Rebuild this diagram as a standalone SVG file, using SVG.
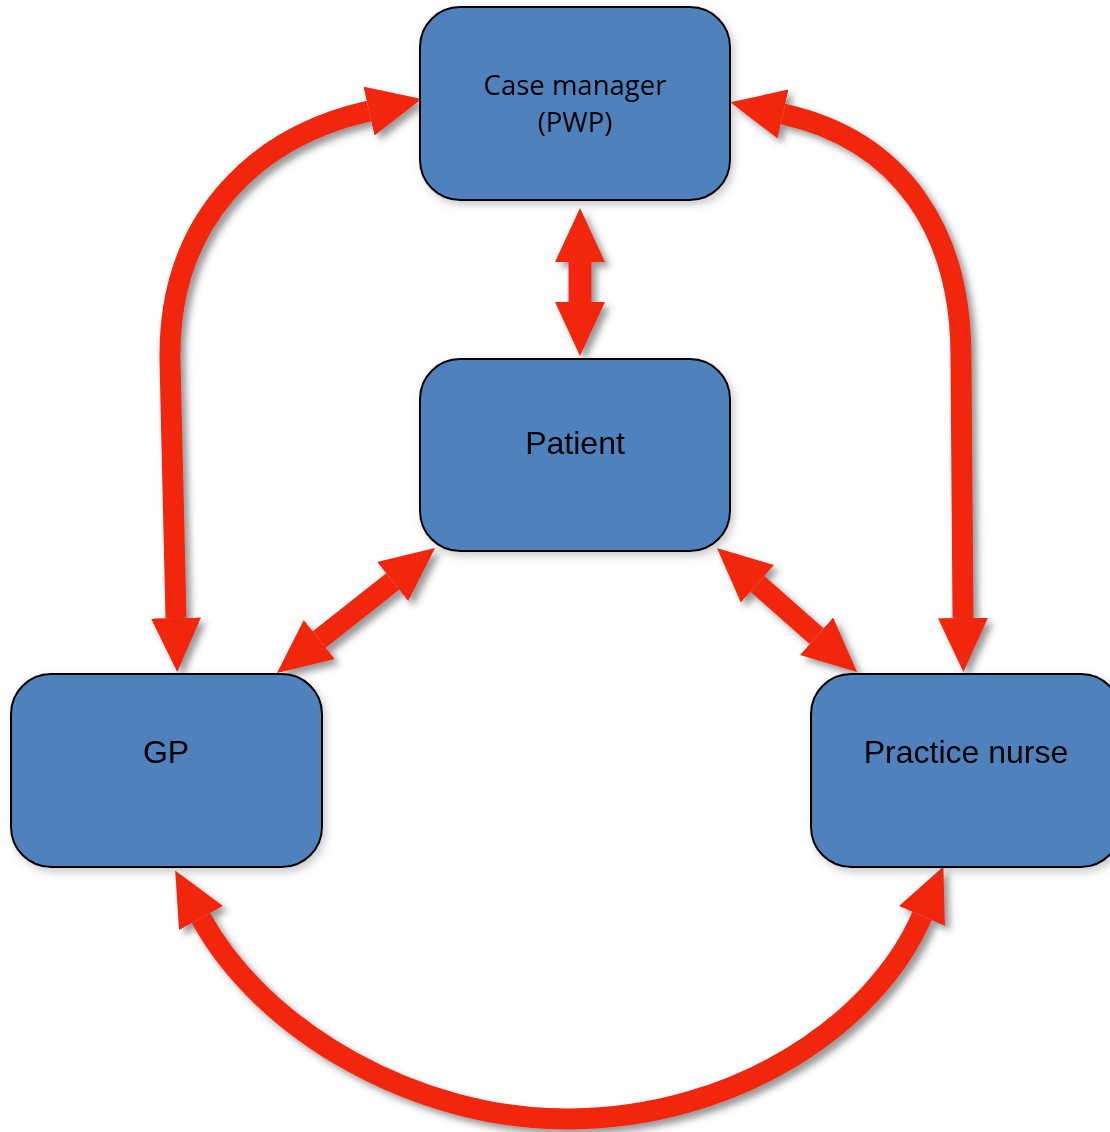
<svg xmlns="http://www.w3.org/2000/svg" width="1110" height="1132" viewBox="0 0 1110 1132">
  <style>
    .box { fill: #4F81BD; stroke: #000; stroke-width: 2; }
    .shaft { fill: none; stroke: #F2270F; stroke-width: 21; marker-start: url(#ah); marker-end: url(#ah); }
    .lbl { font-family: "Liberation Sans", Arial, sans-serif; font-size: 32px; fill: #000; text-anchor: middle; }
    .lbl2 { font-family: "Open Sans", "Liberation Sans", sans-serif; font-size: 27.5px; fill: #000; text-anchor: middle; }
  </style>
  <defs>
    <marker id="ah" markerUnits="userSpaceOnUse" markerWidth="60" markerHeight="52" refX="0" refY="25" orient="auto-start-reverse" viewBox="0 0 60 52">
      <path d="M0,0 L54,25 L0,50 z" fill="#F2270F"/>
    </marker>
    <filter id="sh" x="-20%" y="-20%" width="140%" height="140%">
      <feDropShadow dx="5" dy="5" stdDeviation="3.5" flood-color="#444" flood-opacity="0.55"/>
    </filter>
    <filter id="bsh" x="-10%" y="-10%" width="120%" height="125%">
      <feDropShadow dx="3" dy="4" stdDeviation="4" flood-color="#666" flood-opacity="0.35"/>
    </filter>
  </defs>
  <rect width="1110" height="1132" fill="#fff"/>

  <g id="connectors" filter="url(#sh)">
    <path id="c-cm-gp" class="shaft" d="M 369 111 C 250 138 168 225 170 360 L 176 618"/>
    <path id="c-cm-pn" class="shaft" d="M 783 114 C 900 140 962 230 961 360 L 963 618"/>
    <path id="c-cm-pt" class="shaft" style="stroke-width:23" d="M 580 262 L 580 302"/>
    <path id="c-pt-gp" class="shaft" d="M 392.7 581.5 L 319.3 639.5"/>
    <path id="c-pt-pn" class="shaft" d="M 757.4 583.8 L 816.6 636.2"/>
    <path id="c-gp-pn" class="shaft" d="M 201 918 C 262 1030 415 1120 570 1119 C 735 1118 875 1025 922 916"/>
  </g>

  <g id="case-manager" filter="url(#bsh)">
    <rect class="box" x="420" y="7" width="310" height="193" rx="40" ry="40"/>
    <text class="lbl2" x="575" y="95">Case manager</text>
    <text class="lbl2" x="575" y="132">(PWP)</text>
  </g>
  <g id="patient" filter="url(#bsh)">
    <rect class="box" x="420" y="359" width="310" height="192" rx="40" ry="40"/>
    <text class="lbl" x="575" y="454">Patient</text>
  </g>
  <g id="gp" filter="url(#bsh)">
    <rect class="box" x="11" y="674" width="311" height="193" rx="40" ry="40"/>
    <text class="lbl" x="166" y="763">GP</text>
  </g>
  <g id="practice-nurse" filter="url(#bsh)">
    <rect class="box" x="811" y="674" width="310" height="193" rx="40" ry="40"/>
    <text class="lbl" x="966" y="763">Practice nurse</text>
  </g>
</svg>
